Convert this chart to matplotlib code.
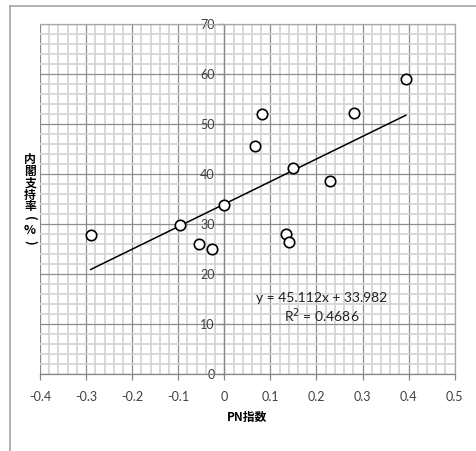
import numpy as np
import matplotlib
matplotlib.use("Agg")
import matplotlib.pyplot as plt
from matplotlib.ticker import MultipleLocator, FixedLocator
from matplotlib.lines import Line2D

# Data
pn_index = [-0.290, -0.096, -0.055, -0.027, 0.000, 0.067, 0.081, 0.133, 0.141,
            0.150, 0.229, 0.281, 0.394]
approval = [27.9, 29.9, 26.1, 25.0, 33.9, 45.6, 52.1, 28.1, 26.5,
            41.3, 38.6, 52.3, 59.0]
slope = 45.112
intercept = 33.982
r_squared = 0.4686
x_ticks = [-0.4, -0.3, -0.2, -0.1, 0.0, 0.1, 0.2, 0.3, 0.4, 0.5]
x_tick_labels = ["-0.4", "-0.3", "-0.2", "-0.1", "0", "0.1", "0.2", "0.3", "0.4", "0.5"]
y_ticks = [0, 10, 20, 30, 40, 50, 60, 70]
y_tick_labels = ["0", "10", "20", "30", "40", "50", "60", "70"]
y_title_chars = ["内", "閣", "支", "持", "率", "(", "%", ")"]
x_title = "PN指数"

W, H = 477, 451
fig = plt.figure(figsize=(W / 100, H / 100), dpi=100)
ax = fig.add_axes([40 / W, 1 - 374 / H, (454.7 - 40) / W, (374 - 24) / H])

ax.set_xlim(-0.4, 0.5)
ax.set_ylim(0, 70)

# grid
ax.xaxis.set_major_locator(FixedLocator(x_ticks))
ax.yaxis.set_major_locator(FixedLocator(y_ticks))
ax.xaxis.set_minor_locator(MultipleLocator(0.02))
ax.yaxis.set_minor_locator(MultipleLocator(2))
ax.grid(which="minor", color="#d6d6d6", linewidth=1.3, zorder=0)
ax.grid(which="major", color="#8c8c8c", linewidth=0.9, zorder=0.5)
ax.set_axisbelow(True)

ax.set_xticklabels(x_tick_labels)
ax.set_yticklabels(y_tick_labels)

for s in ["top", "right"]:
    ax.spines[s].set_color("#a6a6a6")
    ax.spines[s].set_linewidth(0.9)
ax.spines["left"].set_position(("data", 0))
ax.spines["left"].set_color("#868686")
ax.spines["left"].set_linewidth(0.9)
ax.spines["bottom"].set_color("#868686")
ax.spines["bottom"].set_linewidth(0.9)

ax.tick_params(which="minor", length=0)
ax.tick_params(which="major", length=4, width=0.9, color="#868686",
               labelsize=9, labelcolor="#404040")
ax.tick_params(axis="x", which="major", pad=8)
ax.tick_params(axis="y", which="major", pad=3)
for lab in ax.get_xticklabels() + ax.get_yticklabels():
    lab.set_fontfamily("Lato")

# points
ax.plot(pn_index, approval, linestyle="none", marker="o", markersize=7.5,
        markerfacecolor="white", markeredgecolor="black", markeredgewidth=1.2,
        zorder=4)

# trend line
xl = np.array([min(pn_index), max(pn_index)])
ax.plot(xl, slope * xl + intercept, color="black", linewidth=1.1, zorder=3)

ax.text(0.211, 15.2, f"y = {slope}x + {intercept}", ha="center", va="center",
        fontsize=10, family="Lato", color="#222222", zorder=5)
ax.text(0.211, 11.6, f"R$^2$ = {r_squared}", ha="center", va="center",
        fontsize=10, family="Lato", color="#222222", zorder=5)

# axis titles
fig.text(247 / W, 1 - 417 / H, x_title, ha="center", va="center",
         fontsize=8.5, fontweight="bold",
         family=["Noto Sans CJK JP", "DejaVu Sans"])
y0, pitch = 160, 11.7
for i, ch in enumerate(y_title_chars):
    rot = -90 if ch in "()" else 0
    fig.text(30 / W, 1 - (y0 + i * pitch) / H, ch, ha="center", va="center",
             fontsize=9 if ch in "()%" else 8.5, fontweight="bold",
             rotation=rot, rotation_mode="anchor",
             family=["Noto Sans CJK JP", "DejaVu Sans"])

# outer chart frame (cropped)
fig.add_artist(Line2D([10 / W, 1], [1 - 6 / H, 1 - 6 / H], color="#a6a6a6",
                      linewidth=1.2, transform=fig.transFigure))
fig.add_artist(Line2D([10 / W, 10 / W], [0, 1 - 6 / H], color="#a6a6a6",
                      linewidth=1.2, transform=fig.transFigure))

fig.savefig("out.png", dpi=100, facecolor="white")
